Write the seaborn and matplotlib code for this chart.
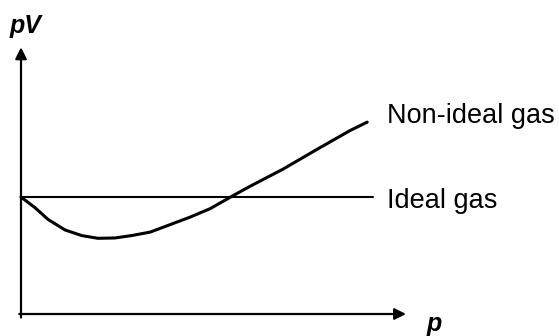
import matplotlib
matplotlib.use("Agg")
import matplotlib.pyplot as plt
import seaborn as sns
import pandas as pd

# ---- data ----
p_nonideal = [0.0, 0.40, 0.77, 1.26, 1.74, 2.20, 2.69, 3.17, 3.69, 4.26, 4.83,
              5.40, 6.03, 6.54, 7.49, 8.46, 9.40, 9.89]
pv_nonideal = [1.0, 0.909, 0.809, 0.718, 0.670, 0.647, 0.650, 0.671, 0.700,
               0.764, 0.828, 0.900, 1.007, 1.091, 1.239, 1.408, 1.568, 1.640]
p_ideal = [0.0, 10.06]
pv_ideal = [1.0, 1.0]
labels = ["Non-ideal gas", "Ideal gas"]
axis_labels = ["pV", "p"]

sns.set_theme(style="white")
plt.rcParams["font.family"] = ["Liberation Sans", "DejaVu Sans"]
plt.rcParams["text.color"] = "black"

fig = plt.figure(figsize=(5.59, 3.36), dpi=100)
ax = fig.add_axes([0, 0, 1, 1])

df_non = pd.DataFrame({"p": p_nonideal, "pV": pv_nonideal})
df_id = pd.DataFrame({"p": p_ideal, "pV": pv_ideal})

sns.lineplot(data=df_non, x="p", y="pV", ax=ax, color="black", lw=2.2,
             sort=False, estimator=None, solid_joinstyle="round",
             solid_capstyle="round")
sns.lineplot(data=df_id, x="p", y="pV", ax=ax, color="black", lw=1.5,
             sort=False, estimator=None)

ax.set_xlim(-0.6, 15.37)
ax.set_ylim(-0.188, 2.684)
for s in ax.spines.values():
    s.set_visible(False)
ax.set_xticks([])
ax.set_yticks([])
ax.set_xlabel("")
ax.set_ylabel("")

# axes arrows
arrow_kw = dict(arrowstyle="-|>", color="black", lw=1.6, mutation_scale=17,
                shrinkA=0, shrinkB=0)
ax.annotate("", xy=(0.0, 2.28), xytext=(0.0, -0.03), arrowprops=arrow_kw)
ax.annotate("", xy=(11.0, 0.0), xytext=(-0.05, 0.0), arrowprops=arrow_kw)

# labels
ax.text(10.46, 1.632, labels[0], fontsize=19.5, va="baseline", ha="left",
        color="black")
ax.text(10.46, 0.906, labels[1], fontsize=19.5, va="baseline", ha="left",
        color="black")
ax.text(-0.34, 2.40, axis_labels[0], fontsize=18, fontweight="bold",
        fontstyle="italic", va="baseline", ha="left", color="black")
ax.text(11.6, -0.145, axis_labels[1], fontsize=18, fontweight="bold",
        fontstyle="italic", va="baseline", ha="left", color="black")

fig.savefig("out.png", dpi=100)
